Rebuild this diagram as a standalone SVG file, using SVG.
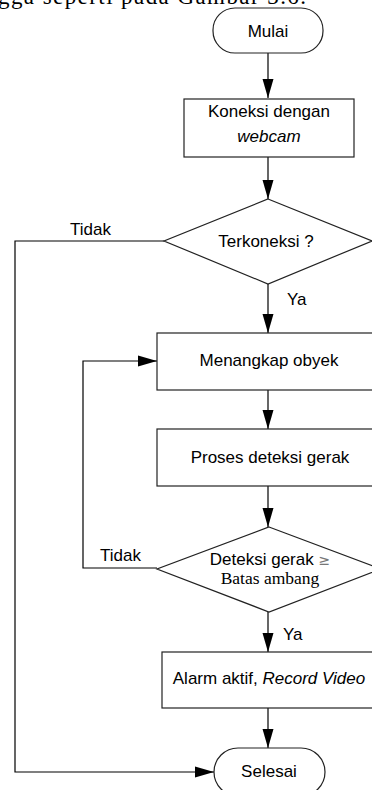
<svg xmlns="http://www.w3.org/2000/svg" width="372" height="790" viewBox="0 0 372 790">
<style>
.shape{fill:#fff;stroke:#222;stroke-width:1.2}
.line{fill:none;stroke:#000;stroke-width:1.2}
.t{font-family:"Liberation Sans",Arial,sans-serif;font-size:17px;fill:#000;text-anchor:middle}
.l{font-family:"Liberation Sans",Arial,sans-serif;font-size:17px;fill:#000}
.s{font-family:"Liberation Serif","Times New Roman",serif;font-size:17.5px;fill:#000}
.top{font-family:"Liberation Serif","Times New Roman",serif;font-size:23px;fill:#000}
</style>
<defs>
<marker id="a" markerUnits="userSpaceOnUse" markerWidth="20" markerHeight="12" viewBox="0 0 20 12" refX="19" refY="6" orient="auto">
<path d="M0,0.5 L19,6 L0,11.5 Z" fill="#000"/>
</marker>
</defs>
<text class="top" x="-2" y="4" textLength="308" lengthAdjust="spacing">gga seperti pada Gambar 3.6.</text>
<g id="connectors">
<line class="line" x1="268" y1="53" x2="268" y2="98" marker-end="url(#a)"/>
<line class="line" x1="268" y1="157" x2="268" y2="199" marker-end="url(#a)"/>
<polyline class="line" points="164,241 15,241 15,772 214,772" marker-end="url(#a)"/>
<line class="line" x1="268" y1="284" x2="268" y2="333" marker-end="url(#a)"/>
<line class="line" x1="268" y1="390" x2="268" y2="429" marker-end="url(#a)"/>
<line class="line" x1="268" y1="486" x2="268" y2="527" marker-end="url(#a)"/>
<polyline class="line" points="157,568 83,568 83,361 157,361" marker-end="url(#a)"/>
<line class="line" x1="268" y1="612" x2="268" y2="652" marker-end="url(#a)"/>
<line class="line" x1="268" y1="708" x2="268" y2="748" marker-end="url(#a)"/>
<text class="l" x="70" y="235">Tidak</text>
<text class="l" x="287" y="305">Ya</text>
<text class="l" x="100" y="561">Tidak</text>
<text class="l" x="283" y="640">Ya</text>
</g>
<g id="mulai">
<rect class="shape" x="213" y="8" width="110" height="45" rx="22" ry="22"/>
<text class="t" x="268" y="37">Mulai</text>
</g>
<g id="koneksi">
<rect class="shape" x="184" y="99" width="170" height="58"/>
<text class="t" x="269" y="117">Koneksi dengan</text>
<text class="t" x="269" y="142" font-style="italic">webcam</text>
</g>
<g id="terkoneksi">
<polygon class="shape" points="268,199 372,241 268,284 164,241"/>
<text class="t" x="266" y="247">Terkoneksi ?</text>
</g>
<g id="menangkap">
<rect class="shape" x="157" y="333" width="222" height="57"/>
<text class="t" x="269" y="366">Menangkap obyek</text>
</g>
<g id="proses">
<rect class="shape" x="157" y="429" width="222" height="57"/>
<text class="t" x="270" y="463">Proses deteksi gerak</text>
</g>
<g id="deteksi">
<polygon class="shape" points="269,527 381,569 269,612 157,569"/>
<text class="t" x="270" y="565">Deteksi gerak <tspan fill="#777" font-family="'DejaVu Sans',sans-serif" font-size="14px">≥</tspan></text>
<text class="s" x="270" y="584" text-anchor="middle">Batas ambang</text>
</g>
<g id="alarm">
<rect class="shape" x="162" y="652" width="214" height="56"/>
<text class="t" x="269" y="684">Alarm aktif, <tspan font-style="italic">Record Video</tspan></text>
</g>
<g id="selesai">
<rect class="shape" x="214" y="748" width="111" height="48" rx="24" ry="24"/>
<text class="t" x="269" y="777">Selesai</text>
</g>
</svg>
